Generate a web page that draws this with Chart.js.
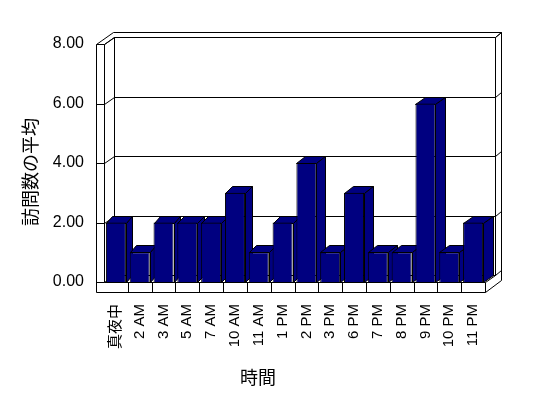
<!DOCTYPE html>
<html>
<head>
<meta charset="utf-8">
<script src="https://cdn.jsdelivr.net/npm/chart.js@4.4.1/dist/chart.umd.min.js"></script>
<style>
  html, body { margin: 0; padding: 0; background: #fff; }
</style>
</head>
<body>
<canvas id="visitChart" width="548" height="398"></canvas>
<script>
const hours = ["真夜中", "2 AM", "3 AM", "5 AM", "7 AM", "10 AM", "11 AM", "1 PM",
  "2 PM", "3 PM", "6 PM", "7 PM", "8 PM", "9 PM", "10 PM", "11 PM"];
const visitAverages = [2, 1, 2, 2, 2, 3, 1, 2, 4, 1, 3, 1, 1, 6, 1, 2];
const yTickValues = [0, 2, 4, 6, 8];
const yTitle = "訪問数の平均";
const xTitle = "時間";

const NAVY = "#000080";
const LATIN = '"Liberation Sans", Arial, sans-serif';
const CJK = '"Noto Sans CJK JP", sans-serif';

function line(ctx, x1, y1, x2, y2) {
  ctx.beginPath();
  ctx.moveTo(Math.round(x1) + 0.5, Math.round(y1) + 0.5);
  ctx.lineTo(Math.round(x2) + 0.5, Math.round(y2) + 0.5);
  ctx.stroke();
}

function poly(ctx, pts) {
  ctx.beginPath();
  pts.forEach(([x, y], i) => {
    const px = Math.round(x) + 0.5, py = Math.round(y) + 0.5;
    if (i === 0) ctx.moveTo(px, py); else ctx.lineTo(px, py);
  });
  ctx.closePath();
  ctx.fill();
  ctx.stroke();
}

// walls, floor and back-wall grid of the 3D box
const boxPlugin = {
  id: "box3d",
  beforeDatasetsDraw(chart) {
    const ctx = chart.ctx;
    const { left, right, top, bottom } = chart.chartArea;
    const y = chart.scales.y;
    const x = chart.scales.x;
    const dx = 10, dy = -7;
    const outerL = left - 8, floorB = bottom + 10;
    const bl = left + dx, br = right + dx, bt = top + dy, bb = bottom + dy;
    const outerR = br + 6, outerT = bt - 5;

    ctx.save();
    ctx.strokeStyle = "#000";
    ctx.fillStyle = "#fff";
    ctx.lineWidth = 1;

    poly(ctx, [[outerL, floorB], [outerL, top], [outerL + 17, outerT], [outerR, outerT],
      [outerR, bottom - 2], [right, floorB]]);

    line(ctx, left, top, left, bottom);
    line(ctx, left, top, bl, bt);
    line(ctx, bl, bt, br, bt);
    line(ctx, br, bt, outerR, outerT);
    line(ctx, bl, bt, bl, bb);
    line(ctx, br, bt, br, bb);
    line(ctx, bl, bb, br, bb);

    yTickValues.forEach((v) => {
      const py = y.getPixelForValue(v);
      line(ctx, outerL, py, left, py);
      line(ctx, left, py, bl, py + dy);
      line(ctx, bl, py + dy, br, py + dy);
      line(ctx, br, py + dy, outerR, py + dy - 5);
    });

    // floor front band with category dividers
    line(ctx, left, bottom, right, bottom);
    line(ctx, right, bottom, br, bb);
    line(ctx, right, bottom, right, floorB);
    for (let i = 1; i < hours.length; i++) {
      const px = (x.getPixelForTick(i - 1) + x.getPixelForTick(i)) / 2;
      line(ctx, px, bottom, px, floorB);
    }

    // bar tops and sides, drawn behind the front faces
    const meta = chart.getDatasetMeta(0);
    ctx.fillStyle = NAVY;
    meta.data.forEach((bar) => {
      const p = bar.getProps(["x", "y", "base", "width"], true);
      const l = p.x - p.width / 2, r = p.x + p.width / 2;
      const d = 6 + 4 * (p.x - left) / (right - left);
      poly(ctx, [[l, p.y], [r, p.y], [r + d, p.y + dy], [l + d, p.y + dy]]);
      poly(ctx, [[r, p.y], [r + d, p.y + dy], [r + d, p.base + dy], [r, p.base]]);
    });
    ctx.restore();
  },
  afterDraw(chart) {
    const ctx = chart.ctx;
    ctx.save();
    ctx.fillStyle = "#000";
    ctx.font = "18px " + CJK;
    ctx.textAlign = "center";
    ctx.textBaseline = "middle";
    ctx.fillText(xTitle, 258, 377);
    ctx.translate(30, 172);
    ctx.rotate(-Math.PI / 2);
    ctx.fillText(yTitle, 0, 0);
    ctx.restore();
  },
};

new Chart(document.getElementById("visitChart"), {
  type: "bar",
  data: {
    labels: hours,
    datasets: [
      {
        data: visitAverages,
        backgroundColor: NAVY,
        borderColor: "#000",
        borderWidth: 1,
        barPercentage: 0.84,
        categoryPercentage: 1,
      },
    ],
  },
  options: {
    responsive: false,
    animation: false,
    devicePixelRatio: 1,
    layout: { padding: { top: 44, right: 63, bottom: 0, left: 0 } },
    plugins: { legend: { display: false }, tooltip: { enabled: false } },
    scales: {
      x: {
        grid: { display: false, drawTicks: false },
        border: { display: false },
        afterFit: (scale) => { scale.height = 116; },
        ticks: {
          autoSkip: false,
          minRotation: 90,
          maxRotation: 90,
          padding: 22,
          color: "#000",
          font: { family: LATIN + ", " + CJK, size: 15 },
        },
      },
      y: {
        min: 0,
        max: 8,
        grid: { display: false, drawTicks: false },
        border: { display: false },
        afterFit: (scale) => { scale.width = 104; },
        afterBuildTicks: (scale) => { scale.ticks = yTickValues.map((v) => ({ value: v })); },
        ticks: {
          padding: 20,
          color: "#000",
          font: { family: LATIN, size: 16 },
          callback: (v) => Number(v).toFixed(2),
        },
      },
    },
  },
  plugins: [boxPlugin],
});
</script>
</body>
</html>
